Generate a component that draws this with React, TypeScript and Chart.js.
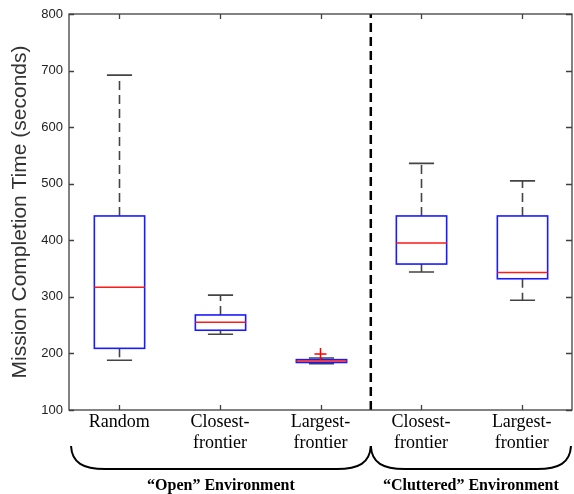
import React, { useEffect, useRef } from "react";
import { Chart, registerables } from "chart.js";

Chart.register(...registerables);

// ---- data ----
const categoryLabels: string[][] = [
  ["Random"],
  ["Closest-", "frontier"],
  ["Largest-", "frontier"],
  ["Closest-", "frontier"],
  ["Largest-", "frontier"],
];
const positions = [1, 2, 3, 4, 5];
const whiskerLow = [188, 234, 182, 344, 294];
const q1 = [209, 241, 184, 358, 332];
const median = [317, 255, 186.5, 395, 343];
const q3 = [443, 268, 189, 443, 443];
const whiskerHigh = [692, 303, 192, 536, 505];
const outliers = [{ x: 3, y: 199 }];
const separatorX = 3.5;
const groups = [
  { label: "\u201COpen\u201D Environment", from: 0.52, to: 3.5 },
  { label: "\u201CCluttered\u201D Environment", from: 3.5, to: 5.49 },
];
const yTicks = [100, 200, 300, 400, 500, 600, 700, 800];
const yTitle = "Mission Completion Time (seconds)";

const boxPlugin = {
  id: "boxplots",
  beforeDatasetsDraw(chart: any) {
    const { ctx, scales } = chart;
    const xs = scales.x;
    const ys = scales.y;
    const half = xs.getPixelForValue(1.25) - xs.getPixelForValue(1);
    const capHalf = half / 2;
    ctx.save();
    positions.forEach((p, i) => {
      const cx = Math.round(xs.getPixelForValue(p)) + 0.5;
      const yl = ys.getPixelForValue(whiskerLow[i]);
      const y1 = ys.getPixelForValue(q1[i]);
      const ym = ys.getPixelForValue(median[i]);
      const y3 = ys.getPixelForValue(q3[i]);
      const yh = ys.getPixelForValue(whiskerHigh[i]);
      // whiskers (dashed)
      ctx.strokeStyle = "#444";
      ctx.lineWidth = 1.6;
      ctx.setLineDash([9, 5]);
      ctx.beginPath();
      ctx.moveTo(cx, y3);
      ctx.lineTo(cx, yh);
      ctx.moveTo(cx, y1);
      ctx.lineTo(cx, yl);
      ctx.stroke();
      ctx.setLineDash([]);
      // caps
      ctx.beginPath();
      ctx.moveTo(cx - capHalf, yh);
      ctx.lineTo(cx + capHalf, yh);
      ctx.moveTo(cx - capHalf, yl);
      ctx.lineTo(cx + capHalf, yl);
      ctx.stroke();
      // box
      ctx.strokeStyle = "#1a1aff";
      ctx.lineWidth = 1.6;
      ctx.strokeRect(cx - half, y3, 2 * half, y1 - y3);
      // median
      ctx.strokeStyle = "#ff1a1a";
      ctx.lineWidth = 1.5;
      ctx.beginPath();
      ctx.moveTo(cx - half, ym);
      ctx.lineTo(cx + half, ym);
      ctx.stroke();
    });
    ctx.restore();
  },
  afterDraw(chart: any) {
    const { ctx, scales, chartArea } = chart;
    const xs = scales.x;
    const ys = scales.y;
    const { left, right, top, bottom } = chartArea;
    ctx.save();
    // frame
    ctx.strokeStyle = "#404040";
    ctx.lineWidth = 1.3;
    ctx.strokeRect(left, top, right - left, bottom - top);
    // inward ticks
    ctx.beginPath();
    yTicks.forEach((v) => {
      const y = Math.round(ys.getPixelForValue(v)) + 0.5;
      ctx.moveTo(left, y);
      ctx.lineTo(left + 5, y);
      ctx.moveTo(right, y);
      ctx.lineTo(right - 6, y);
    });
    positions.forEach((p) => {
      const x = Math.round(xs.getPixelForValue(p)) + 0.5;
      ctx.moveTo(x, bottom);
      ctx.lineTo(x, bottom - 5);
      ctx.moveTo(x, top);
      ctx.lineTo(x, top + 5);
    });
    ctx.stroke();
    // group brackets
    const yTop = bottom + 36;
    const yLine = bottom + 59;
    ctx.strokeStyle = "#000";
    ctx.lineWidth = 2;
    groups.forEach((g) => {
      const x0 = xs.getPixelForValue(g.from);
      const x1 = xs.getPixelForValue(g.to);
      ctx.beginPath();
      ctx.moveTo(x0, yTop);
      ctx.bezierCurveTo(x0 + 1, yLine - 6, x0 + 12, yLine, x0 + 34, yLine);
      ctx.lineTo(x1 - 34, yLine);
      ctx.bezierCurveTo(x1 - 12, yLine, x1 - 1, yLine - 6, x1, yTop);
      ctx.stroke();
      ctx.fillStyle = "#000";
      ctx.font = "bold 16px 'Liberation Serif', 'Times New Roman', serif";
      ctx.textAlign = "center";
      ctx.textBaseline = "middle";
      ctx.fillText(g.label, (x0 + x1) / 2, bottom + 76);
    });
    ctx.restore();
  },
};

export default function App() {
  const ref = useRef<HTMLCanvasElement | null>(null);
  useEffect(() => {
    if (!ref.current) return;
    const chart = new Chart(ref.current, {
      type: "scatter",
      data: {
        datasets: [
          {
            type: "line",
            data: [
              { x: separatorX, y: 100 },
              { x: separatorX, y: 800 },
            ],
            borderColor: "#000",
            borderWidth: 2.5,
            borderDash: [9, 5],
            pointRadius: 0,
            showLine: true,
          } as any,
          {
            type: "scatter",
            data: outliers,
            pointStyle: "cross",
            pointRadius: 6,
            borderColor: "#ff0000",
            backgroundColor: "#ff0000",
            borderWidth: 1.5,
          } as any,
        ],
      },
      options: {
        animation: false,
        responsive: false,
        maintainAspectRatio: false,
        layout: { autoPadding: false, padding: { left: 0, right: 2, top: 14, bottom: 0 } },
        plugins: { legend: { display: false }, tooltip: { enabled: false } },
        scales: {
          x: {
            type: "linear",
            min: 0.5,
            max: 5.5,
            grid: { display: false, drawTicks: false },
            border: { display: false },
            afterBuildTicks: (scale: any) => {
              scale.ticks = positions.map((v) => ({ value: v }));
            },
            afterFit: (scale: any) => {
              scale.height = 84;
              scale.paddingLeft = 0;
              scale.paddingRight = 0;
            },
            ticks: {
              autoSkip: false,
              maxRotation: 0,
              padding: 1,
              color: "#000",
              font: { family: "'Liberation Serif', 'Times New Roman', serif", size: 18, lineHeight: 1.2 },
              callback: (v: any) => {
                const i = positions.indexOf(Number(v));
                return i >= 0 ? categoryLabels[i] : "";
              },
            },
          },
          y: {
            type: "linear",
            min: 100,
            max: 800,
            grid: { display: false, drawTicks: false },
            border: { display: false },
            afterBuildTicks: (scale: any) => {
              scale.ticks = yTicks.map((v) => ({ value: v }));
            },
            afterFit: (scale: any) => {
              scale.width = 69;
              scale.paddingTop = 0;
              scale.paddingBottom = 0;
            },
            ticks: {
              padding: 6,
              color: "#222",
              font: { family: "'Liberation Sans', Arial, sans-serif", size: 13 },
            },
            title: {
              display: true,
              text: yTitle,
              color: "#333",
              padding: { top: 8, bottom: 0 },
              font: { family: "'Liberation Sans', Arial, sans-serif", size: 21, lineHeight: 1.2 },
            },
          },
        },
      },
      plugins: [boxPlugin],
    });
    return () => chart.destroy();
  }, []);
  return (
    <div style={{ position: "absolute", left: 0, top: 0, width: 574, height: 494, background: "#fff" }}>
      <canvas ref={ref} width={574} height={494} style={{ width: 574, height: 494 }} />
    </div>
  );
}
